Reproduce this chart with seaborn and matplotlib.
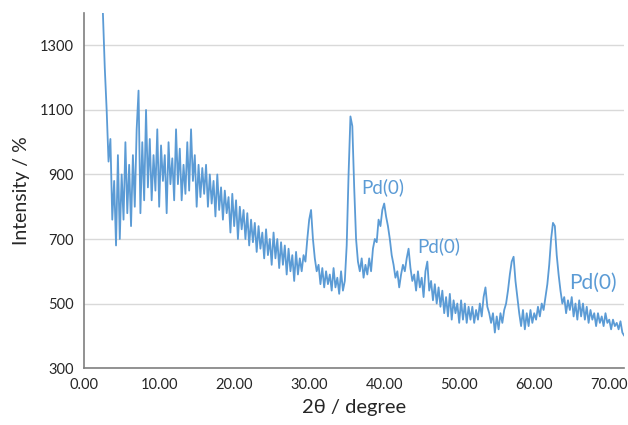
import matplotlib
matplotlib.use('Agg')
import matplotlib.pyplot as plt
import seaborn as sns
import pandas as pd

# XRD scan: regular step in 2theta, intensity per step
scan_start = 2.5
scan_step = 0.25
intensity = [
    1400, 1230, 1100, 940, 1010, 760, 880, 680, 960, 700,          # 2.50 - 4.75
    900, 760, 1000, 780, 930, 740, 960, 800, 1040, 1160,           # 5.00 - 7.25
    780, 1000, 820, 1100, 860, 1010, 820, 960, 850, 1040,          # 7.50 - 9.75
    800, 990, 880, 960, 780, 1000, 870, 950, 820, 1040,            # 10.00 - 12.25
    870, 980, 820, 930, 840, 1000, 850, 1040, 880, 960,            # 12.50 - 14.75
    800, 930, 830, 920, 840, 930, 800, 900, 810, 880,              # 15.00 - 17.25
    770, 900, 790, 860, 760, 850, 780, 830, 720, 840,              # 17.50 - 19.75
    740, 820, 700, 800, 730, 790, 700, 780, 680, 760,              # 20.00 - 22.25
    690, 750, 660, 740, 670, 720, 640, 730, 650, 700,              # 22.50 - 24.75
    620, 720, 640, 700, 610, 690, 620, 680, 590, 670,              # 25.00 - 27.25
    600, 650, 570, 660, 590, 640, 600, 650, 630, 700,              # 27.50 - 29.75
    760, 790, 700, 640, 600, 620, 560, 610, 550, 600,              # 30.00 - 32.25
    560, 590, 540, 610, 550, 580, 530, 600, 540, 570,              # 32.50 - 34.75
    680, 900, 1080, 1050, 860, 700, 630, 600, 640, 580,            # 35.00 - 37.25
    620, 590, 640, 600, 670, 700, 690, 760, 740, 790,              # 37.50 - 39.75
    810, 770, 740, 700, 650, 620, 580, 600, 550, 590,              # 40.00 - 42.25
    620, 600, 640, 670, 610, 570, 590, 540, 600, 550,              # 42.50 - 44.75
    580, 520, 600, 630, 540, 570, 510, 560, 500, 550,              # 45.00 - 47.25
    490, 540, 470, 520, 460, 530, 450, 510, 470, 500,              # 47.50 - 49.75
    440, 510, 450, 500, 440, 490, 450, 490, 440, 480,              # 50.00 - 52.25
    450, 500, 460, 520, 550, 490, 470, 440, 470, 410,              # 52.50 - 54.75
    460, 420, 470, 440, 480, 500, 540, 590, 630, 645,              # 55.00 - 57.25
    570, 520, 470, 430, 480, 420, 470, 430, 480, 440,              # 57.50 - 59.75
    470, 450, 490, 460, 500, 480, 520, 560, 620, 700,              # 60.00 - 62.25
    750, 740, 650, 590, 540, 500, 520, 470, 510, 480,              # 62.50 - 64.75
    520, 460, 500, 450, 510, 460, 500, 450, 490, 440,              # 65.00 - 67.25
    480, 450, 470, 430, 470, 440, 460, 430, 470, 440,              # 67.50 - 69.75
    450, 420, 450, 430, 440, 420, 445, 410, 400,                   # 70.00 - 72.00
]

# peak annotations
peak_labels = ['Pd(0)', 'Pd(0)', 'Pd(0)']
label_x = [36.9, 44.4, 64.6]
label_y = [861, 678, 563]
label_size = [13.5, 13.5, 15]

x_ticks = [0, 10, 20, 30, 40, 50, 60, 70]
y_ticks = [300, 500, 700, 900, 1100, 1300]

blue = '#5B9BD5'

df = pd.DataFrame({'intensity': intensity})
df['two_theta'] = scan_start + scan_step * df.index

sns.set_style('white')
plt.rcParams['font.family'] = ['Lato', 'DejaVu Sans']

fig = plt.figure(figsize=(6.28, 4.25), dpi=100)
ax = fig.add_axes([0.134, 0.134, 0.86, 0.835])

sns.lineplot(data=df, x='two_theta', y='intensity', ax=ax, color=blue,
             linewidth=1.3, estimator=None, sort=False)

for t, lx, ly, fs in zip(peak_labels, label_x, label_y, label_size):
    ax.text(lx, ly, t, color=blue, fontsize=fs, va='center', ha='left')

ax.set_xlim(0, 72)
ax.set_ylim(300, 1400)
ax.set_xticks(x_ticks)
ax.set_xticklabels([f'{v:.2f}' for v in x_ticks])
ax.set_yticks(y_ticks)
ax.yaxis.grid(True, color='#D9D9D9', linewidth=1)
ax.xaxis.grid(False)
ax.set_axisbelow(True)

for s in ['top', 'right']:
    ax.spines[s].set_visible(False)
for s in ['left', 'bottom']:
    ax.spines[s].set_color('#7F7F7F')
    ax.spines[s].set_linewidth(1.2)

ax.tick_params(axis='both', direction='out', length=4, width=1, color='#7F7F7F',
               labelsize=10.5, labelcolor='#262626')
ax.set_xlabel('2θ / degree', fontsize=14.5, color='#262626', labelpad=5)
ax.set_ylabel('Intensity / %', fontsize=14, color='#262626', labelpad=7)

fig.savefig('out.png', dpi=100)
